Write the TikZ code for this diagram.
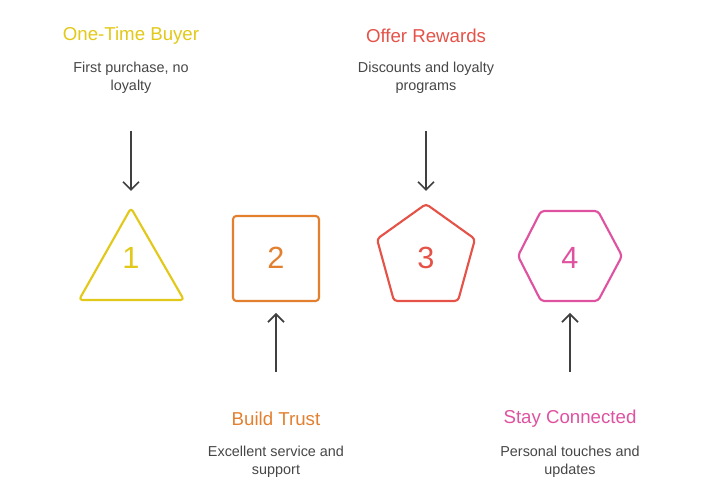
\documentclass[tikz,border=0pt]{standalone}
\usepackage{fontspec}
\setmainfont{Liberation Sans}
\usetikzlibrary{arrows.meta}
\definecolor{cyel}{RGB}{226,200,24}
\definecolor{corg}{RGB}{226,128,48}
\definecolor{cred}{RGB}{228,82,72}
\definecolor{cpnk}{RGB}{222,82,160}
\definecolor{cgry}{RGB}{64,64,64}
\definecolor{ctxt}{RGB}{70,70,70}
\tikzset{
  shapeline/.style={line width=1.6pt, rounded corners=2.5pt, line join=round},
  numlabel/.style={font=\fontsize{23}{27}\selectfont, inner sep=0pt},
  titlelabel/.style={font=\fontsize{14}{17}\selectfont, inner sep=0pt},
  desclabel/.style={font=\fontsize{10.8}{13.5}\selectfont, text=ctxt, align=center, inner sep=0pt},
  connector/.style={draw=cgry, line width=1.3pt, -{Straight Barb[length=6pt,width=12pt]}}
}
\begin{document}
\begin{tikzpicture}[x=0.75pt,y=-0.75pt]
\useasboundingbox (0,0) rectangle (708,491);
% shapes
\draw[shapeline, cyel] (131,208) -- (184,300) -- (79,300) -- cycle;
\draw[shapeline, corg] (233,216) rectangle (319,301);
\draw[shapeline, cred] (426,204) -- (475,239) -- (458,301) -- (394,301) -- (377,239) -- cycle;
\draw[shapeline, cpnk] (518,256) -- (541,211) -- (598,211) -- (622,256) -- (598,301) -- (541,301) -- cycle;
% numbers
\node[numlabel, text=cyel] (n1) at (131,258) {1};
\node[numlabel, text=corg] (n2) at (276,258) {2};
\node[numlabel, text=cred] (n3) at (426,258) {3};
\node[numlabel, text=cpnk] (n4) at (570,258) {4};
% titles
\node[titlelabel, text=cyel] (t1) at (131,36) {One-Time Buyer};
\node[titlelabel, text=cred] (t3) at (426,36) {Offer Rewards};
\node[titlelabel, text=corg] (t2) at (276,419) {Build Trust};
\node[titlelabel, text=cpnk] (t4) at (570,419) {Stay Connected};
% descriptions
\node[desclabel] (d1) at (131,78) {First purchase, no\\loyalty};
\node[desclabel] (d3) at (426,78) {Discounts and loyalty\\programs};
\node[desclabel] (d2) at (276,462) {Excellent service and\\support};
\node[desclabel] (d4) at (570,462) {Personal touches and\\updates};
% connectors
\coordinate (a1s) at (131,131); \coordinate (a1e) at (131,191);
\coordinate (a3s) at (426,131); \coordinate (a3e) at (426,191);
\coordinate (a2s) at (276,372); \coordinate (a2e) at (276,313);
\coordinate (a4s) at (570,372); \coordinate (a4e) at (570,313);
\draw[connector] (a1s) -- (a1e);
\draw[connector] (a3s) -- (a3e);
\draw[connector] (a2s) -- (a2e);
\draw[connector] (a4s) -- (a4e);
\end{tikzpicture}
\end{document}
